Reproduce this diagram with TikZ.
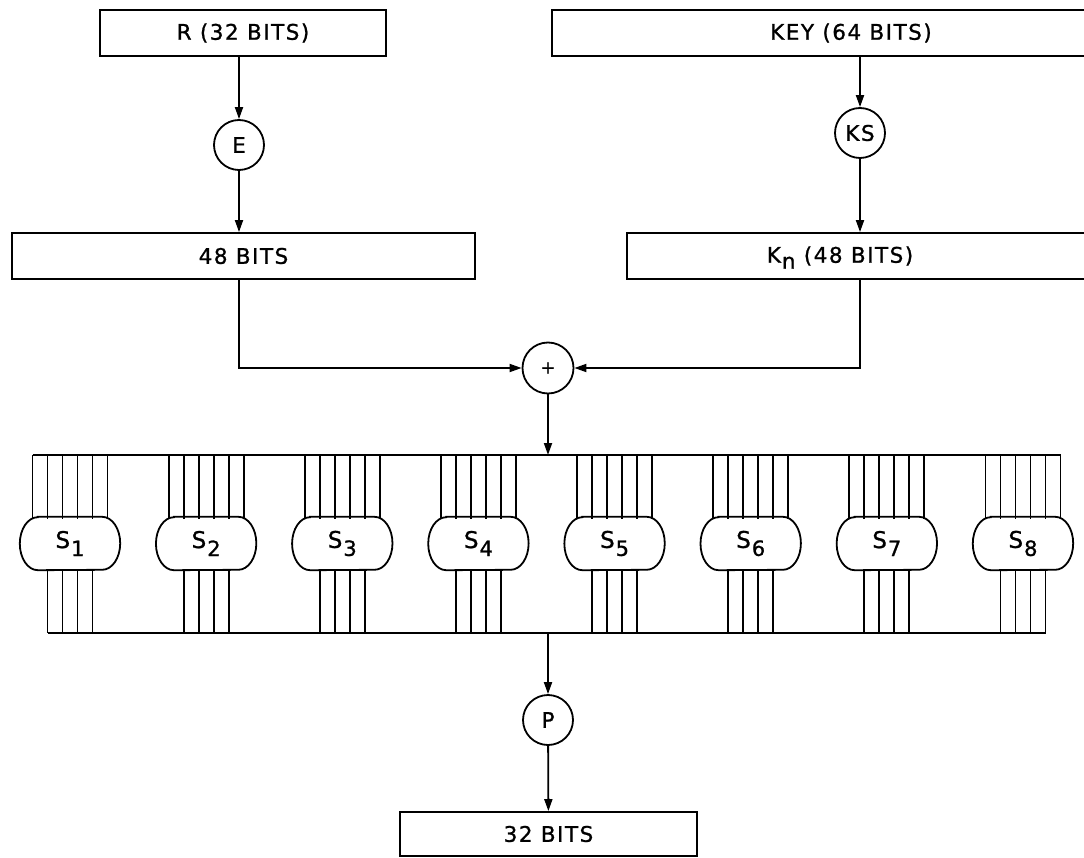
\documentclass[tikz,border=0pt]{standalone}
\usepackage{fontspec}
\setmainfont{DejaVu Sans}[LetterSpace=7,FakeBold=1]
\usetikzlibrary{arrows.meta}
\newcommand{\lowsub}[2][8pt]{\kern1pt\raisebox{-#1}{#2}}
\newcommand{\flatsub}[2][6pt]{\kern1pt\raisebox{-#1}[0pt][0pt]{#2}}
\begin{document}
\begin{tikzpicture}[x=1pt,y=1pt,
  every node/.style={font=\fontsize{21.5}{24}\selectfont},
  bigbox/.style={draw, line width=1.8pt, rectangle, inner sep=0pt, minimum height=46pt},
  ring/.style={draw, circle, line width=1.8pt, minimum size=50pt, inner sep=0pt},
  wire/.style={line width=1.8pt},
  arr/.style={line width=1.8pt, -{Triangle[length=12pt,width=8pt]}},
  sshape/.style={rectangle, minimum width=100pt, minimum height=53pt, inner sep=0pt,
    font=\fontsize{23}{24}\selectfont}]
\useasboundingbox (0,0) rectangle (1084,-858);
\clip (0,0) rectangle (1084,-858);
% top row
\node[bigbox, minimum width=286pt] (rbox) at (243,-33) {R (32 BITS)};
\node[bigbox, minimum width=598pt] (key) at (851,-33) {KEY (64 BITS)};
\node[ring] (e) at (239,-145) {E};
\node[ring] (ks) at (860,-133) {KS};
\node[bigbox, minimum width=463pt] (b48) at (243.5,-256) {48 BITS};
\node[bigbox, minimum width=520pt, anchor=west] (kn) at (626,-256) {};
\node (kntext) at (840,-256) {K\flatsub{n} (48 BITS)};
\node[ring, minimum size=51pt, font=\fontsize{18}{18}\selectfont] (xor) at (548,-368) {+};
\node[ring] (p) at (548,-720) {P};
\node[bigbox, minimum width=297pt, minimum height=44pt] (b32) at (548.5,-834) {32 BITS};
% connectors
\draw[arr] (e |- rbox.south) -- (e);
\draw[arr] (e) -- (e |- b48.north);
\draw[arr] (ks |- key.south) -- (ks);
\draw[arr] (ks) -- (ks |- kn.north);
\draw[arr] (e |- b48.south) |- (xor);
\draw[arr] (ks |- kn.south) |- (xor);
% bars
\coordinate (tl) at (32.5,-455);
\coordinate (tr) at (1060.5,-455);
\coordinate (bl) at (47.5,-633);
\coordinate (br) at (1045.5,-633);
\draw[wire] (tl) -- (tr);
\draw[wire] (bl) -- (br);
\draw[arr] (xor) -- (xor |- tl);
\draw[arr] (xor |- bl) -- (p);
\draw[arr] (p) -- (b32);
% S boxes
\foreach \i in {1,...,8} {
  \pgfmathsetmacro{\cx}{70+136.14*(\i-1)}
  \node[sshape] (s\i) at (\cx,-543.5) {S\lowsub{{\fontsize{21}{22}\selectfont\i}}};
  \draw[wire] ([xshift=18pt]s\i.north west) -- ([xshift=-18pt]s\i.north east)
     arc[start angle=90,end angle=-90,x radius=18pt,y radius=26.5pt]
     -- ([xshift=18pt]s\i.south west)
     arc[start angle=270,end angle=90,x radius=18pt,y radius=26.5pt] -- cycle;
  \foreach \k in {0,...,5} {
    \pgfmathsetmacro{\lx}{\cx-37.5+15*\k}
    \draw[wire] (\lx,-455) -- (\lx,-519);
  }
  \foreach \k in {1,...,4} {
    \pgfmathsetmacro{\lx}{\cx-37.5+15*\k}
    \draw[wire] (\lx,-570) -- (\lx,-633);
  }
}
\end{tikzpicture}
\end{document}
